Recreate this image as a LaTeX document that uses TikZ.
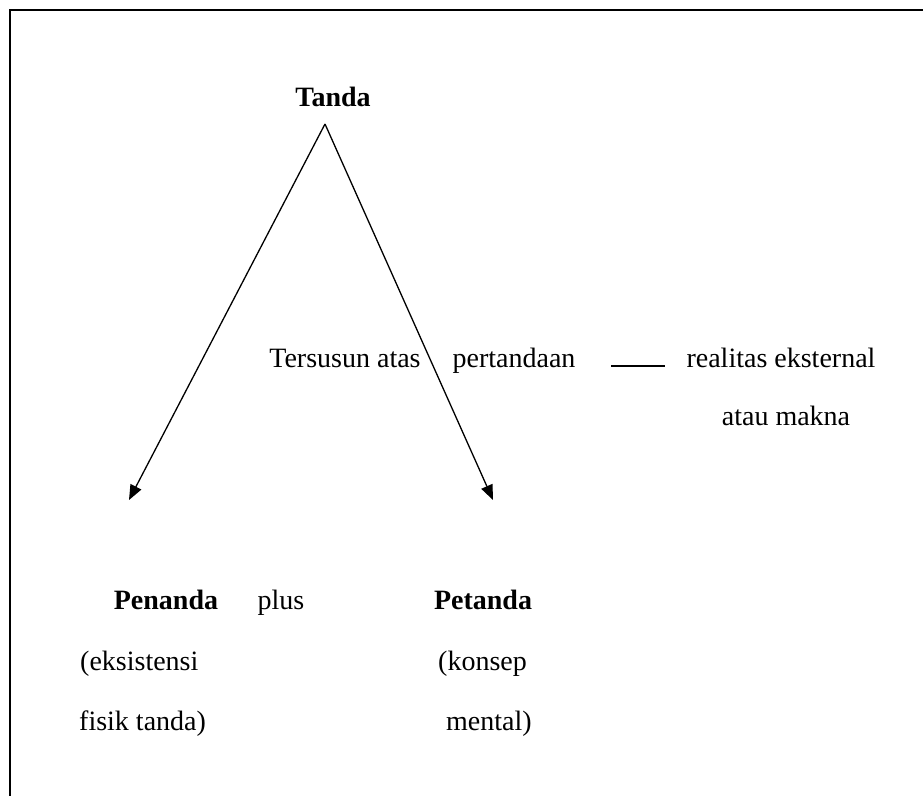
\documentclass[tikz,border=0pt]{standalone}
\usepackage{fontspec}
\setmainfont{Liberation Serif}
\usetikzlibrary{arrows.meta}
\begin{document}
\begin{tikzpicture}[x=1pt,y=-1pt,
  lbl/.style={inner sep=0pt,anchor=base,font=\fontsize{28}{32}\selectfont},
  blbl/.style={lbl,font=\fontsize{28}{32}\selectfont\bfseries},
  arr/.style={line width=1.3pt,-{Triangle[length=15pt,width=12pt]}},
  conn/.style={line width=1.4pt}]
\useasboundingbox (0,0) rectangle (923,795);
\clip (0,0) rectangle (923,795);
\draw[line width=2pt] (10,10) rectangle (940,820);
\node[blbl] (tanda) at (333,106) {Tanda};
\coordinate (apex) at (325,124);
\coordinate (ltip) at (129,500);
\coordinate (rtip) at (493,500);
\draw[arr] (apex) -- (ltip);
\draw[arr] (apex) -- (rtip);
\node[lbl] (tersusun) at (345,367) {Tersusun atas};
\node[lbl] (pert) at (514,367) {pertandaan};
\coordinate (d1) at (611,366);
\coordinate (d2) at (665,366);
\draw[conn] (d1) -- (d2);
\node[lbl] (real) at (781,367) {realitas eksternal};
\node[lbl] (makna) at (786,425) {atau makna};
\node[blbl] (penanda) at (166,609) {Penanda};
\node[lbl] (plus) at (281,609) {plus};
\node[blbl] (petanda) at (483,609) {Petanda};
\node[lbl,anchor=base west] (eks) at (80,670) {(eksistensi};
\node[lbl,anchor=base west] (kon) at (438,670) {(konsep};
\node[lbl,anchor=base west] (fis) at (79,730) {fisik tanda)};
\node[lbl,anchor=base west] (men) at (446,730) {mental)};
\end{tikzpicture}
\end{document}
